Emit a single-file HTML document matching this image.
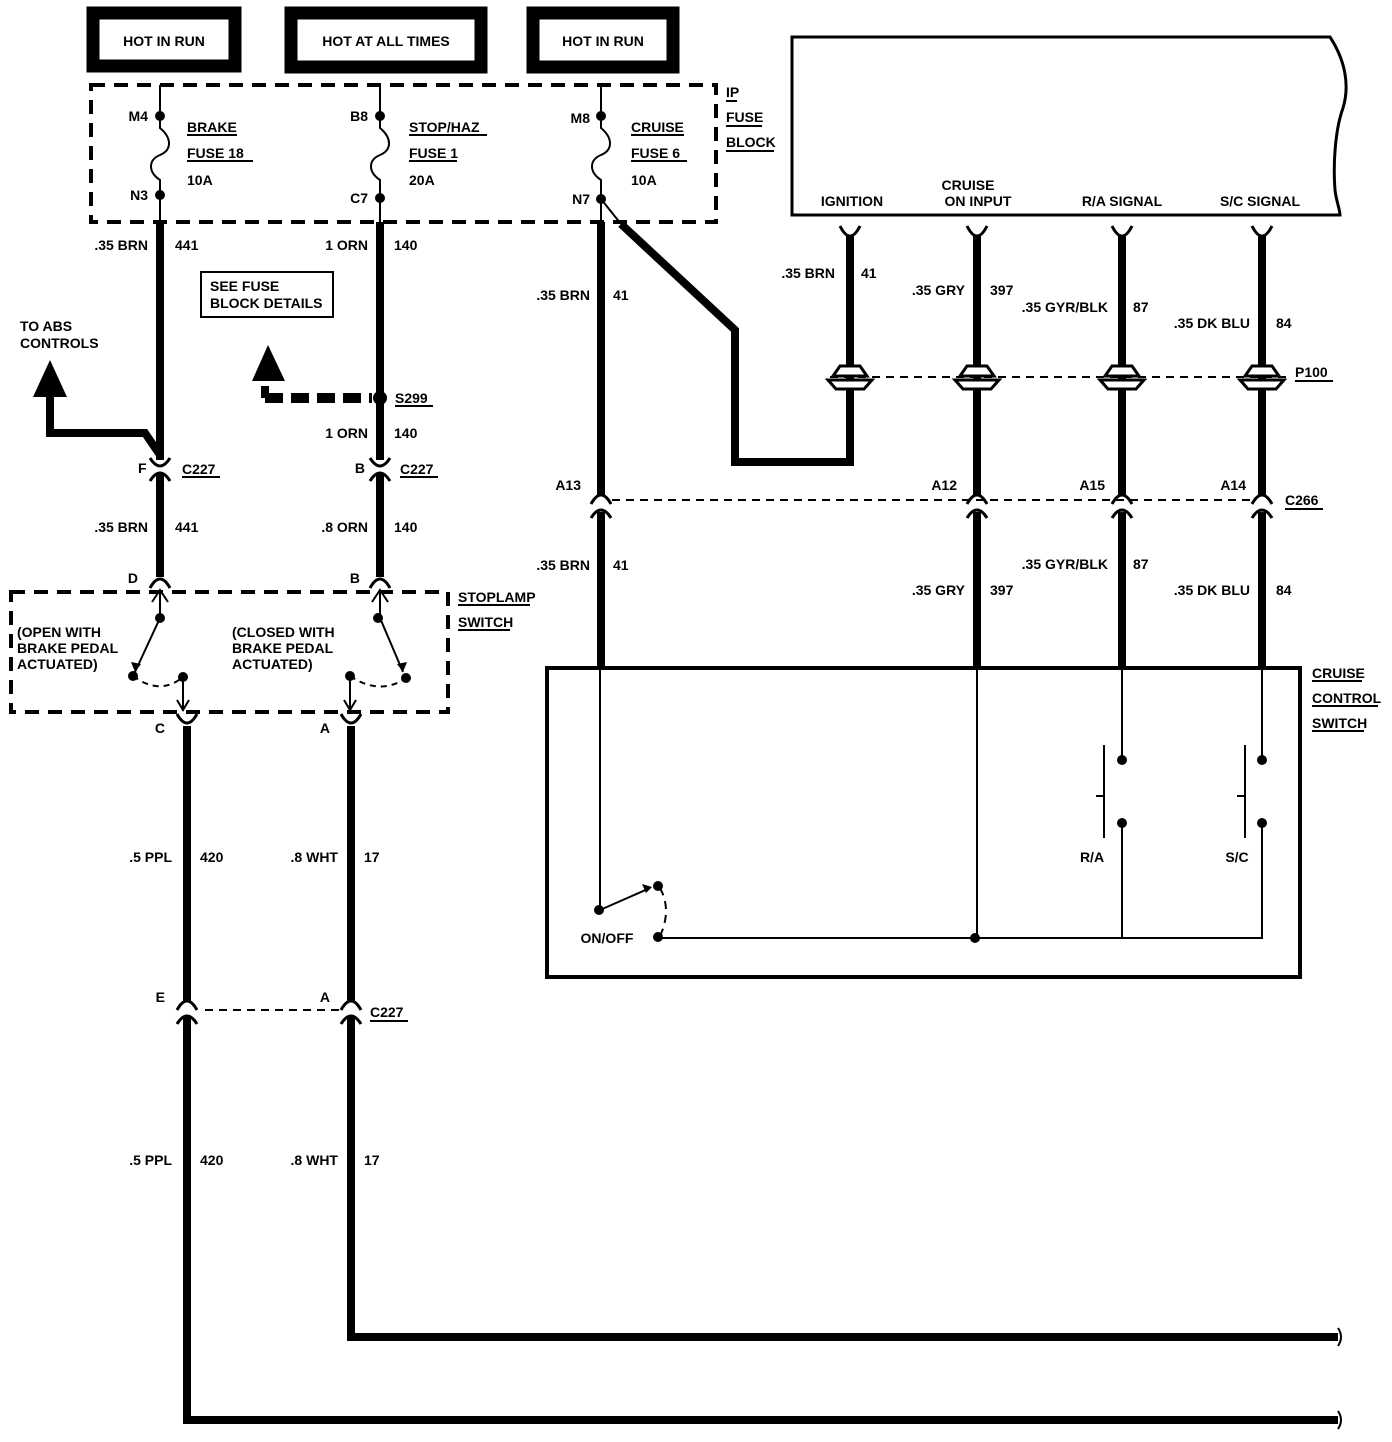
<!DOCTYPE html>
<html><head><meta charset="utf-8">
<style>
html,body{margin:0;padding:0;background:#fff;}
svg{display:block;}
text{font-family:"Liberation Sans Narrow","Liberation Sans",sans-serif;font-weight:bold;font-size:14px;fill:#000;}
</style></head>
<body>
<svg width="1392" height="1442" viewBox="0 0 1392 1442" xmlns="http://www.w3.org/2000/svg">
<g fill="none" stroke="#000">
<rect x="93" y="13" width="142" height="53" stroke-width="13"/>
<rect x="291" y="13" width="190" height="54" stroke-width="13"/>
<rect x="533" y="13" width="140" height="54" stroke-width="13"/>
<rect x="91" y="85" width="625" height="137" stroke-width="4" stroke-dasharray="14,9"/>
<path d="M160 85 V128 C172 138 172 150 160 155 C148 160 148 172 160 180 V222" stroke-width="2"/>
<path d="M380 85 V128 C392 138 392 150 380 155 C368 160 368 172 380 180 V222" stroke-width="2"/>
<path d="M601 85 V128 C613 138 613 150 601 155 C589 160 589 172 601 180 V222" stroke-width="2"/>
<g stroke-width="8">
<path d="M160 222 V460"/>
<path d="M160 474 V577"/>
<path d="M380 222 V460"/>
<path d="M380 474 V577"/>
<path d="M601 222 V495"/>
<path d="M601 512 V668"/>
<path d="M621 224 L735 330 V462 H850 V236"/>
<path d="M977 236 V495"/><path d="M977 512 V668"/>
<path d="M1122 236 V495"/><path d="M1122 512 V668"/>
<path d="M1262 236 V495"/><path d="M1262 512 V668"/>
<path d="M187 726 V1002"/><path d="M187 1016 V1420 H1338"/>
<path d="M351 726 V1002"/><path d="M351 1016 V1337 H1338"/>
<path d="M50 395 V433 H145 L160 455"/>
</g>
<path d="M1338 1328 Q1344 1337 1338 1346 M1338 1411 Q1344 1420 1338 1429" stroke-width="2"/>
<path d="M601 199 L621 224" stroke-width="2"/>
<path d="M265 398 H372" stroke-width="10" stroke-dasharray="18,8"/>
<path d="M265 386 V398" stroke-width="8"/>
<rect x="201" y="272" width="132" height="45" stroke-width="2"/>
<g stroke-width="3">
<path d="M150 458 Q160 474 170 458"/><path d="M150 481 Q160 465 170 481"/>
<path d="M370 458 Q380 474 390 458"/><path d="M370 481 Q380 465 390 481"/>
<path d="M150 588 Q160 570 170 588"/><path d="M370 588 Q380 570 390 588"/>
<path d="M177 714 Q187 732 197 714"/><path d="M341 714 Q351 732 361 714"/>
<path d="M177 1010 Q187 992 197 1010"/><path d="M177 1024 Q187 1008 197 1024"/>
<path d="M341 1010 Q351 992 361 1010"/><path d="M341 1024 Q351 1008 361 1024"/>
<path d="M591 504 Q601 486 611 504"/><path d="M591 518 Q601 502 611 518"/>
<path d="M967 504 Q977 486 987 504"/><path d="M967 518 Q977 502 987 518"/>
<path d="M1112 504 Q1122 486 1132 504"/><path d="M1112 518 Q1122 502 1132 518"/>
<path d="M1252 504 Q1262 486 1272 504"/><path d="M1252 518 Q1262 502 1272 518"/>
<path d="M840 226 Q850 246 860 226"/><path d="M967 226 Q977 246 987 226"/>
<path d="M1112 226 Q1122 246 1132 226"/><path d="M1252 226 Q1262 246 1272 226"/>
</g>
<path d="M205 1010 H340" stroke-width="2" stroke-dasharray="8,6"/>
<path d="M612 500 H1250" stroke-width="2" stroke-dasharray="8,6"/>
<path d="M830 377 H1290" stroke-width="2" stroke-dasharray="8,6"/>
<rect x="11" y="592" width="437" height="120" stroke-width="4" stroke-dasharray="14,9"/>
<g stroke-width="2">
<path d="M160 592 V618 M152 602 L160 590 L168 602"/>
<path d="M160 618 L135 672"/>
<path d="M183 677 V710 M177 700 L183 710 L189 700"/>
<path d="M133 676 Q160 696 183 677" stroke-dasharray="6,5"/>
<path d="M380 592 V618 M372 602 L380 590 L388 602"/>
<path d="M380 618 L403 672"/>
<path d="M350 676 V710 M344 700 L350 710 L356 700"/>
<path d="M350 676 Q380 696 406 678" stroke-dasharray="6,5"/>
</g>
<path d="M792 37 H1330 C1345 60 1350 85 1343 108 C1335 130 1333 165 1335 190 C1336 200 1340 210 1340 215 H792 Z" stroke-width="3"/>
<rect x="547" y="668" width="753" height="309" stroke-width="4"/>
<g stroke-width="2">
<path d="M600 668 V910 L650 888"/>
<path d="M660 888 Q672 910 660 936" stroke-dasharray="8,6"/>
<path d="M658 938 H1262 V823"/>
<path d="M977 668 V938"/>
<path d="M1122 668 V760 M1122 823 V938"/>
<path d="M1262 668 V760"/>
<path d="M1104 745 V838 M1096 796 H1104"/>
<path d="M1245 745 V838 M1237 796 H1245"/>
</g>
<g stroke-width="3" fill="#fff">
<path d="M833 376 L840 366 H860 L867 376 Z"/><path d="M828 380 H872 L864 389 H836 Z"/>
<path d="M960 376 L967 366 H987 L994 376 Z"/><path d="M955 380 H999 L991 389 H963 Z"/>
<path d="M1105 376 L1112 366 H1132 L1139 376 Z"/><path d="M1100 380 H1144 L1136 389 H1108 Z"/>
<path d="M1245 376 L1252 366 H1272 L1279 376 Z"/><path d="M1240 380 H1284 L1276 389 H1248 Z"/>
</g>
<g stroke-width="2">
<path d="M187 135 H237 M187 161 H253"/>
<path d="M409 135 H487 M409 161 H457"/>
<path d="M631 135 H684 M631 161 H687"/>
<path d="M726 101 H737 M726 126 H762 M726 151 H774"/>
<path d="M395 406 H433"/>
<path d="M182 477 H220 M400 477 H438 M370 1021 H408 M1285 509 H1323 M1295 381 H1333"/>
<path d="M458 605 H530 M458 630 H510"/>
<path d="M1312 681 H1362 M1312 706 H1378 M1312 731 H1364"/>
</g>
</g>
<g fill="#000">
<circle cx="160" cy="116" r="5"/><circle cx="160" cy="195" r="5"/>
<circle cx="380" cy="116" r="5"/><circle cx="380" cy="198" r="5"/>
<circle cx="601" cy="116" r="5"/><circle cx="601" cy="199" r="5"/>
<circle cx="380" cy="398" r="7"/>
<circle cx="160" cy="618" r="5"/><circle cx="133" cy="676" r="5"/><circle cx="183" cy="677" r="5"/>
<circle cx="378" cy="618" r="5"/><circle cx="406" cy="678" r="5"/><circle cx="350" cy="676" r="5"/>
<circle cx="599" cy="910" r="5"/><circle cx="658" cy="886" r="5"/><circle cx="658" cy="937" r="5"/>
<circle cx="975" cy="938" r="5"/>
<circle cx="1122" cy="760" r="5"/><circle cx="1122" cy="823" r="5"/>
<circle cx="1262" cy="760" r="5"/><circle cx="1262" cy="823" r="5"/>
<polygon points="50,360 33,397 67,397"/>
<polygon points="268,345 252,381 285,381"/>
<polygon points="135,672 131,662 141,664"/>
<polygon points="403,672 397,664 407,662"/>
<polygon points="652,887 642,884 646,893"/>
</g>
<text x="164" y="46" text-anchor="middle">HOT IN RUN</text>
<text x="386" y="46" text-anchor="middle">HOT AT ALL TIMES</text>
<text x="603" y="46" text-anchor="middle">HOT IN RUN</text>
<text x="148" y="121" text-anchor="end">M4</text>
<text x="148" y="200" text-anchor="end">N3</text>
<text x="368" y="121" text-anchor="end">B8</text>
<text x="368" y="203" text-anchor="end">C7</text>
<text x="590" y="123" text-anchor="end">M8</text>
<text x="590" y="204" text-anchor="end">N7</text>
<text x="187" y="132">BRAKE</text><text x="187" y="158">FUSE 18</text><text x="187" y="185">10A</text>
<text x="409" y="132">STOP/HAZ</text><text x="409" y="158">FUSE 1</text><text x="409" y="185">20A</text>
<text x="631" y="132">CRUISE</text><text x="631" y="158">FUSE 6</text><text x="631" y="185">10A</text>
<text x="726" y="97">IP</text><text x="726" y="122">FUSE</text><text x="726" y="147">BLOCK</text>
<text x="148" y="250" text-anchor="end">.35 BRN</text><text x="175" y="250">441</text>
<text x="368" y="250" text-anchor="end">1 ORN</text><text x="394" y="250">140</text>
<text x="590" y="300" text-anchor="end">.35 BRN</text><text x="613" y="300">41</text>
<text x="210" y="291">SEE FUSE</text><text x="210" y="308">BLOCK DETAILS</text>
<text x="20" y="331">TO ABS</text><text x="20" y="348">CONTROLS</text>
<text x="395" y="403">S299</text>
<text x="368" y="438" text-anchor="end">1 ORN</text><text x="394" y="438">140</text>
<text x="138" y="473">F</text><text x="182" y="474">C227</text>
<text x="365" y="473" text-anchor="end">B</text><text x="400" y="474">C227</text>
<text x="148" y="532" text-anchor="end">.35 BRN</text><text x="175" y="532">441</text>
<text x="368" y="532" text-anchor="end">.8 ORN</text><text x="394" y="532">140</text>
<text x="138" y="583" text-anchor="end">D</text><text x="360" y="583" text-anchor="end">B</text>
<text x="458" y="602">STOPLAMP</text><text x="458" y="627">SWITCH</text>
<text x="17" y="637">(OPEN WITH</text><text x="17" y="653">BRAKE PEDAL</text><text x="17" y="669">ACTUATED)</text>
<text x="232" y="637">(CLOSED WITH</text><text x="232" y="653">BRAKE PEDAL</text><text x="232" y="669">ACTUATED)</text>
<text x="165" y="733" text-anchor="end">C</text><text x="330" y="733" text-anchor="end">A</text>
<text x="172" y="862" text-anchor="end">.5 PPL</text><text x="200" y="862">420</text>
<text x="338" y="862" text-anchor="end">.8 WHT</text><text x="364" y="862">17</text>
<text x="165" y="1002" text-anchor="end">E</text><text x="330" y="1002" text-anchor="end">A</text>
<text x="370" y="1017">C227</text>
<text x="172" y="1165" text-anchor="end">.5 PPL</text><text x="200" y="1165">420</text>
<text x="338" y="1165" text-anchor="end">.8 WHT</text><text x="364" y="1165">17</text>
<text x="852" y="206" text-anchor="middle">IGNITION</text>
<text x="968" y="190" text-anchor="middle">CRUISE</text><text x="978" y="206" text-anchor="middle">ON INPUT</text>
<text x="1122" y="206" text-anchor="middle">R/A SIGNAL</text>
<text x="1260" y="206" text-anchor="middle">S/C SIGNAL</text>
<text x="835" y="278" text-anchor="end">.35 BRN</text><text x="861" y="278">41</text>
<text x="965" y="295" text-anchor="end">.35 GRY</text><text x="990" y="295">397</text>
<text x="1108" y="312" text-anchor="end">.35 GYR/BLK</text><text x="1133" y="312">87</text>
<text x="1250" y="328" text-anchor="end">.35 DK BLU</text><text x="1276" y="328">84</text>
<text x="1295" y="377">P100</text>
<text x="581" y="490" text-anchor="end">A13</text>
<text x="957" y="490" text-anchor="end">A12</text>
<text x="1105" y="490" text-anchor="end">A15</text>
<text x="1246" y="490" text-anchor="end">A14</text>
<text x="1285" y="505">C266</text>
<text x="590" y="570" text-anchor="end">.35 BRN</text><text x="613" y="570">41</text>
<text x="965" y="595" text-anchor="end">.35 GRY</text><text x="990" y="595">397</text>
<text x="1108" y="569" text-anchor="end">.35 GYR/BLK</text><text x="1133" y="569">87</text>
<text x="1250" y="595" text-anchor="end">.35 DK BLU</text><text x="1276" y="595">84</text>
<text x="1312" y="678">CRUISE</text><text x="1312" y="703">CONTROL</text><text x="1312" y="728">SWITCH</text>
<text x="1092" y="862" text-anchor="middle">R/A</text>
<text x="1237" y="862" text-anchor="middle">S/C</text>
<text x="607" y="943" text-anchor="middle">ON/OFF</text>
</svg>
</body></html>
